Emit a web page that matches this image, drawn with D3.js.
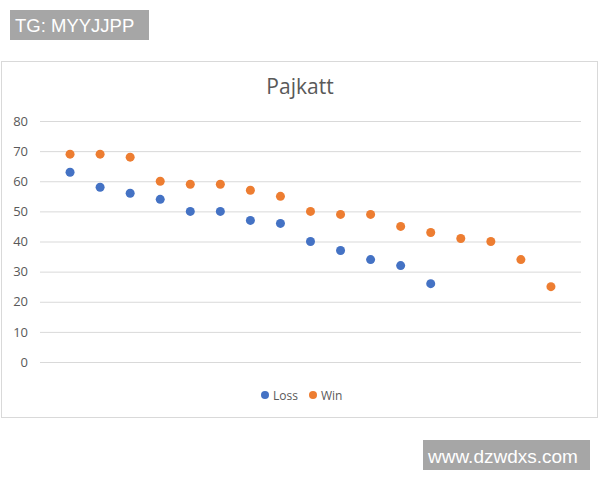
<!DOCTYPE html>
<html>
<head>
<meta charset="utf-8">
<script src="https://cdn.jsdelivr.net/npm/d3@7"></script>
<style>
  body { margin: 0; background: #fff; }
  svg { display: block; }
</style>
</head>
<body>
<svg id="canvas" width="600" height="480"></svg>
<script>
let chartTitle = "Pajkatt"
let seriesNames = ["Loss", "Win"]
let seriesColors = ["#4472c4", "#ed7d31"]

let lossX = [1, 2, 3, 4, 5, 6, 7, 8, 9, 10, 11, 12, 13]
let lossY = [63, 58, 56, 54, 50, 50, 47, 46, 40, 37, 34, 32, 26]

let winX = [1, 2, 3, 4, 5, 6, 7, 8, 9, 10, 11, 12, 13, 14, 15, 16, 17]
let winY = [69, 69, 68, 60, 59, 59, 57, 55, 50, 49, 49, 45, 43, 41, 40, 34, 25]

let yTicks = [0, 10, 20, 30, 40, 50, 60, 70, 80]

let canvas = d3.select("#canvas")

// watermark boxes
canvas.append("rect")
    .attr("x", 10).attr("y", 10)
    .attr("width", 139).attr("height", 30)
    .attr("fill", "#a6a6a6")
canvas.append("text")
    .attr("x", 15).attr("y", 32)
    .attr("fill", "white")
    .style("font-family", "Liberation Sans, Arial, sans-serif")
    .style("font-size", "18.5px")
    .text("TG: MYYJJPP")

// chart frame
canvas.append("rect")
    .attr("x", 1.5).attr("y", 61.5)
    .attr("width", 596).attr("height", 356)
    .attr("fill", "white")
    .attr("stroke", "#d9d9d9")

let xScale = d3.scaleLinear().domain([0, 18]).range([40, 581])
let yScale = d3.scaleLinear().domain([0, 80]).range([362, 121])

let yAxis = d3.axisLeft(yScale).tickValues(yTicks).tickSize(-(581 - 40)).tickPadding(12)

let axisGroup = canvas.append("g")
    .attr("transform", "translate(40, 0)")
    .call(yAxis)

axisGroup.select(".domain").remove()
axisGroup.selectAll(".tick line")
    .attr("stroke", "#d9d9d9")
    .attr("stroke-width", 1)
axisGroup.selectAll(".tick text")
    .attr("fill", "#595959")
    .style("font-family", "Open Sans, sans-serif")
    .style("font-size", "13px")

canvas.append("text")
    .attr("x", 300).attr("y", 94)
    .attr("text-anchor", "middle")
    .attr("fill", "#595959")
    .style("font-family", "Open Sans, sans-serif")
    .style("font-size", "21px")
    .text(chartTitle)

let lossPoints = lossX.map((x, i) => ({ x: x, y: lossY[i] }))
let winPoints = winX.map((x, i) => ({ x: x, y: winY[i] }))
let allSeries = [lossPoints, winPoints]

allSeries.forEach((points, s) => {
    canvas.append("g")
        .selectAll("circle")
        .data(points)
        .enter()
        .append("circle")
        .attr("cx", (d) => xScale(d.x))
        .attr("cy", (d) => yScale(d.y))
        .attr("r", 4.5)
        .attr("fill", seriesColors[s])
})

// legend
let legendX = [265, 313]
let legendGroup = canvas.selectAll(".legend")
    .data(seriesNames)
    .enter()
    .append("g")
    .attr("class", "legend")
    .attr("transform", (d, i) => "translate(" + legendX[i] + ", 395)")

legendGroup.append("circle")
    .attr("r", 4)
    .attr("fill", (d, i) => seriesColors[i])

legendGroup.append("text")
    .attr("x", 8)
    .attr("y", 4.5)
    .attr("fill", "#595959")
    .style("font-family", "Open Sans, sans-serif")
    .style("font-size", "12px")
    .text((d) => d)

canvas.append("rect")
    .attr("x", 423).attr("y", 440)
    .attr("width", 167).attr("height", 30)
    .attr("fill", "#a6a6a6")
canvas.append("text")
    .attr("x", 428).attr("y", 463)
    .attr("fill", "white")
    .style("font-family", "Liberation Sans, Arial, sans-serif")
    .style("font-size", "19px")
    .text("www.dzwdxs.com")
</script>
</body>
</html>
